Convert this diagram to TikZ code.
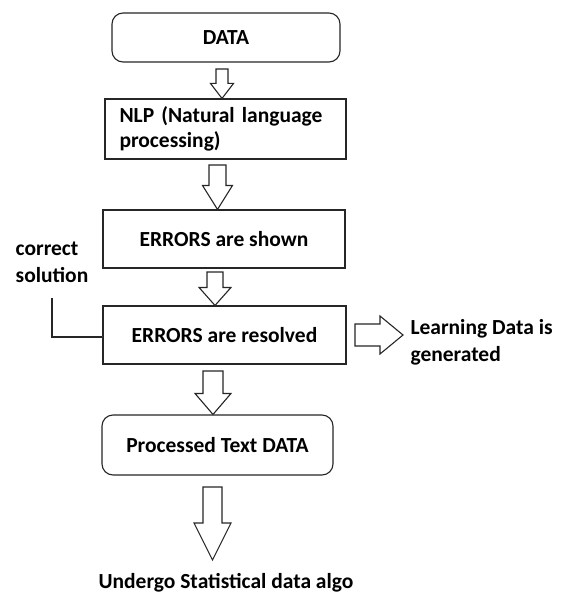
\documentclass[tikz,border=0pt]{standalone}
\usepackage{fontspec}
\setmainfont{Carlito}
\usetikzlibrary{calc}

\tikzset{
  box/.style={draw=black!85, line width=1.1pt, fill=white},
  endbox/.style={box, rounded corners=11pt},
  plain/.style={font=\bfseries\fontsize{21.5}{27}\selectfont},
  blockarrow/.style={draw=black!85, line width=1.1pt, fill=white, line join=miter}
}

% block arrow: from, to, shaft half width, head half width, head length
\newcommand{\blkarrow}[5]{%
  \coordinate (hb) at ($(#2)!#5!(#1)$);
  \draw[blockarrow] ($(#1)!#3!90:(#2)$) -- ($(hb)!#3!90:(#2)$) -- ($(hb)!#4!90:(#2)$)
    -- (#2) -- ($(hb)!#4!-90:(#2)$) -- ($(hb)!#3!-90:(#2)$) -- ($(#1)!#3!-90:(#2)$) -- cycle;
}

\begin{document}
\begin{tikzpicture}[x=1pt,y=1pt]
  \useasboundingbox (0,0) rectangle (565,-596);

  % boxes
  \node[endbox, plain, minimum width=228pt, minimum height=49pt] (data) at (226,-37.5) {DATA};
  \node[box, plain, font=\bfseries\fontsize{21.5}{25}\selectfont, minimum width=241pt,
        minimum height=60pt, text width=212pt, align=left, inner sep=0pt]
        (nlp) at (225.5,-129) {NLP (Natural language\\processing)};
  \node[box, plain, minimum width=242pt, minimum height=58pt] (shown) at (224,-239) {ERRORS are shown};
  \node[box, plain, minimum width=243pt, minimum height=58pt] (resolved) at (224.5,-335) {ERRORS are resolved};
  \node[endbox, plain, minimum width=231pt, minimum height=60pt] (processed) at (217.5,-445) {Processed Text DATA};

  % free texts
  \node[plain, align=left] (correct) at (52,-262) {correct\\solution};
  \node[plain, align=left, anchor=west] (learning) at (407,-342) {Learning Data is\\generated};
  \node[plain] (undergo) at (226,-583) {Undergo Statistical data algo};

  % arrow ends
  \coordinate (a1s) at (222,-69);
  \coordinate (a2s) at (217.5,-165);
  \coordinate (a3s) at (215,-272);
  \coordinate (a4s) at (213,-371);
  \coordinate (a5s) at (212.5,-487);
  \coordinate (a5e) at (212.5,-560);
  \coordinate (a6s) at (355,-335);
  \coordinate (a6e) at (403,-335);

  \blkarrow{a1s}{a1s |- nlp.north}{6pt}{11.5pt}{15pt}
  \blkarrow{a2s}{a2s |- shown.north}{8.5pt}{15pt}{24pt}
  \blkarrow{a3s}{a3s |- resolved.north}{8pt}{16pt}{18pt}
  \blkarrow{a4s}{a4s |- processed.north}{10pt}{18pt}{21pt}
  \blkarrow{a5s}{a5e}{9.5pt}{18.5pt}{37pt}
  \blkarrow{a6s}{a6e}{11pt}{19pt}{23pt}

  % side line
  \coordinate (cs) at (52,-298);
  \draw[box] (cs) |- (resolved.west |- 0,-337);
\end{tikzpicture}
\end{document}
